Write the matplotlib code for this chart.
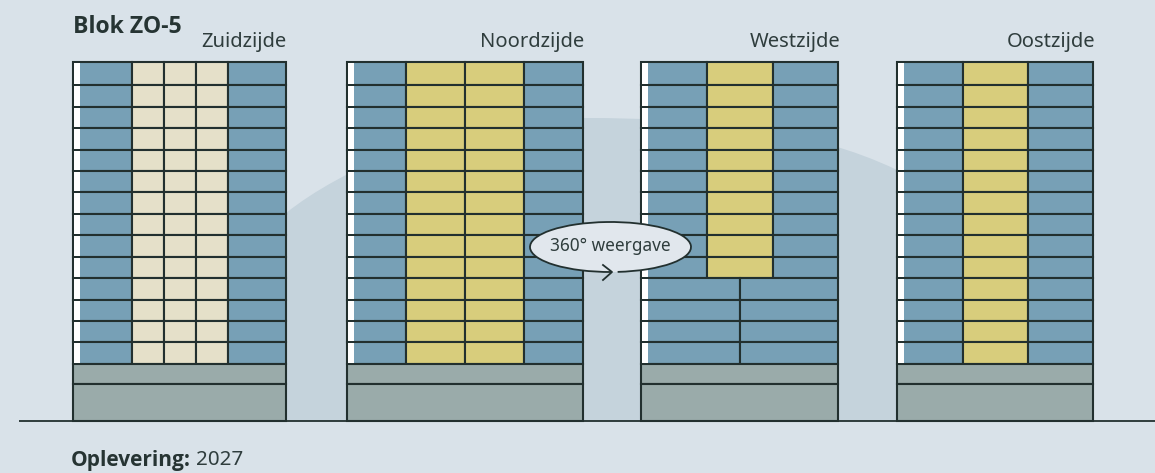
import matplotlib
matplotlib.use("Agg")
import matplotlib.pyplot as plt
from matplotlib.patches import Ellipse, Arc, PathPatch
from matplotlib.path import Path

BG, HILL, BLUE, PALE, YELLOW, BASE, INK = "#d9e2e9", "#c5d3dc", "#77a0b6", "#e5e0c9", "#d8cd7c", "#9aabaa", "#22302f"
plt.rcParams["font.family"] = ["Noto Sans", "DejaVu Sans"]
BOLD = ["Open Sans", "DejaVu Sans"]

title = "Blok ZO-5"
side_names = ["Zuidzijde", "Noordzijde", "Westzijde", "Oostzijde"]
label_right = [287, 584, 840, 1095]
side_left = [73, 347, 641, 897]
side_right = [286, 583, 838, 1093]
floor_edges = [62, 85, 107, 128, 149.5, 171, 192, 213.5, 235, 257, 278, 299.5, 321, 342, 363.5]
base_edges = [363.5, 384, 421]
verticals = [[132, 164, 196, 228], [406, 465, 524], [707, 773], [963, 1028]]
accent_colour = [PALE, YELLOW, YELLOW, YELLOW]
accent_floors = [14, 14, 10, 14]
west_lower_divider = 740
hill_x = [215, 286, 340, 450, 585, 700, 810, 897, 1060]
hill_y = [421, 213, 170, 118, 118, 118, 128, 170, 421]

fig = plt.figure(figsize=(11.55, 4.73), dpi=100, facecolor=BG)
ax = fig.add_axes([0, 0, 1, 1])
ax.set_xlim(0, 1155); ax.set_ylim(473, 0); ax.axis("off")

# hill
hill_verts = list(zip(hill_x, hill_y)) + [(hill_x[-1], hill_y[-1])]
hill_path = Path(hill_verts,
                 [Path.MOVETO, Path.LINETO, Path.CURVE4, Path.CURVE4, Path.CURVE4,
                  Path.CURVE4, Path.CURVE4, Path.CURVE4, Path.LINETO, Path.CLOSEPOLY])
ax.add_patch(PathPatch(hill_path, fc=HILL, ec="none", zorder=1))

LW = 1.5
for i in range(4):
    L, R = side_left[i], side_right[i]
    cols = [L] + verticals[i] + [R]
    tops = floor_edges[:-1]; bots = floor_edges[1:]
    for f, (t, b) in enumerate(zip(tops, bots)):
        if i == 2 and f >= accent_floors[i]:
            edges = [L, west_lower_divider, R]
            colours = [BLUE, BLUE]
        else:
            edges = cols
            colours = [BLUE] + [accent_colour[i]] * (len(cols) - 3) + [BLUE]
        for c, (e0, e1) in enumerate(zip(edges[:-1], edges[1:])):
            ax.bar(e0, b - t, e1 - e0, bottom=t, align="edge", color=colours[c],
                   edgecolor=INK, linewidth=LW, zorder=3)
        ax.bar(L + 1, b - t - 2, 6, bottom=t + 1, align="edge", color="white", linewidth=0, zorder=4)
    for t, b in zip(base_edges[:-1], base_edges[1:]):
        ax.bar(L, b - t, R - L, bottom=t, align="edge", color=BASE, edgecolor=INK, linewidth=LW, zorder=3)
    ax.text(label_right[i], 42, side_names[i], ha="right", va="center", fontsize=14.5, color="#2f3d3d", zorder=6)

ax.plot([19, 1155], [421, 421], color=INK, lw=1.3, zorder=5, solid_capstyle="butt")

ax.text(73, 27, title, fontsize=16.6, fontweight="bold", family=BOLD, color="#263433", va="center", ha="left")
ax.text(71, 460, "Oplevering:", fontsize=15, fontweight="bold", family=BOLD, color="#263433", va="center", ha="left")
ax.text(196, 460, "2027", fontsize=14.8, color="#2f3d3d", va="center", ha="left")

# 360 badge
cx, cy, w, h = 610.5, 247, 161, 50
ax.add_patch(Ellipse((cx, cy), w, h, fc="#e1e7ed", ec="none", zorder=7))
ax.add_patch(Arc((cx, cy), w, h, theta1=88, theta2=74 + 360, ec=INK, lw=1.3, zorder=8))
ax.plot([603, 612, 603], [265, 272, 280], color=INK, lw=1.3, zorder=9)
ax.text(cx, 246, "360° weergave", ha="center", va="center", fontsize=12.4, color="#2f3d3d", zorder=9)

fig.savefig("out.png", dpi=100, facecolor=BG)
